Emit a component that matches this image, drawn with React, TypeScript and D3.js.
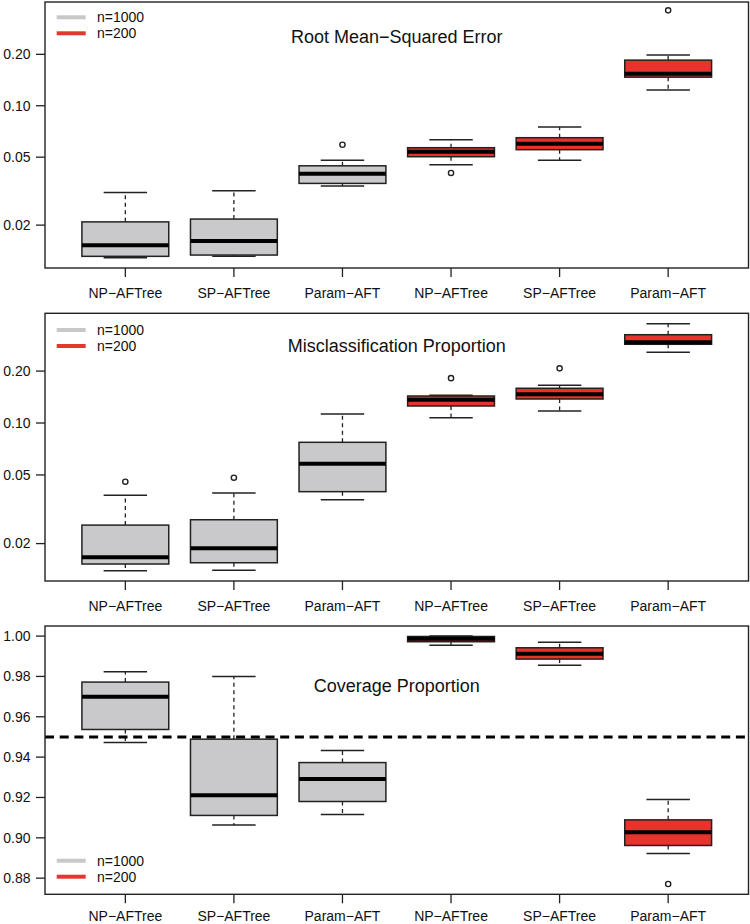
import React from "react";
import * as d3 from "d3";

const categories = ["NP−AFTree", "SP−AFTree", "Param−AFT", "NP−AFTree", "SP−AFTree", "Param−AFT"];
const groups = ["n=1000", "n=1000", "n=1000", "n=200", "n=200", "n=200"];
const legendLabels = ["n=1000", "n=200"];

// [lower whisker, Q1, median, Q3, upper whisker]
const rmseStats = [
  [0.01288, 0.01313, 0.01524, 0.0209, 0.031],
  [0.01313, 0.01336, 0.01614, 0.0217, 0.0318],
  [0.0339, 0.0351, 0.04, 0.0445, 0.0479],
  [0.0451, 0.0503, 0.0538, 0.0568, 0.0632],
  [0.0479, 0.0553, 0.0599, 0.065, 0.075],
  [0.1235, 0.147, 0.154, 0.185, 0.198],
];
const rmseOutliers = [[], [], [0.0591], [0.0404], [], [0.362]];

const miscStats = [
  [0.01393, 0.01523, 0.01665, 0.0256, 0.0381],
  [0.014, 0.01549, 0.0188, 0.0275, 0.0393],
  [0.0359, 0.04, 0.0581, 0.0773, 0.1127],
  [0.1073, 0.1255, 0.1365, 0.1434, 0.1448],
  [0.1174, 0.1378, 0.1467, 0.159, 0.1654],
  [0.257, 0.286, 0.294, 0.325, 0.376],
];
const miscOutliers = [[0.0457], [0.0482], [], [0.182], [0.2075], []];

const covStats = [
  [0.9473, 0.9537, 0.9699, 0.9772, 0.9823],
  [0.9064, 0.9111, 0.9211, 0.9489, 0.98],
  [0.9116, 0.918, 0.9291, 0.9373, 0.9433],
  [0.9955, 0.9972, 0.9987, 0.9998, 1.0],
  [0.9855, 0.9886, 0.9912, 0.9942, 0.997],
  [0.8922, 0.8962, 0.9028, 0.9089, 0.919],
];
const covOutliers = [[], [], [], [], [], [0.8771]];

const logTicks = [0.02, 0.05, 0.1, 0.2];
const covTicks = [0.88, 0.9, 0.92, 0.94, 0.96, 0.98, 1.0];
const covReference = 0.95;

const titles = ["Root Mean−Squared Error", "Misclassification Proportion", "Coverage Proportion"];

const FONT = "'Liberation Sans', Arial, Helvetica, sans-serif";
const GRAY = "#c9c9cb";
const RED = "#e8322b";
const LEG_GRAY = "#c8c8c8";
const LEG_RED = "#e03a30";
const INK = "#222";

const LEFT = 45;
const RIGHT = 748.5;

type Panel = {
  top: number;
  bottom: number;
  log: boolean;
  domain: [number, number];
  ticks: number[];
  stats: number[][];
  outliers: number[][];
  title: string;
  titleY: number;
  legendY: number;
  labelOffset: number;
  ref?: number;
};

const panels: Panel[] = [
  { top: 2, bottom: 268, log: true, domain: [0.01122, 0.405], ticks: logTicks, stats: rmseStats, outliers: rmseOutliers, title: titles[0], titleY: 37, legendY: 17.3, labelOffset: 30 },
  { top: 313.3, bottom: 581, log: true, domain: [0.01214, 0.4325], ticks: logTicks, stats: miscStats, outliers: miscOutliers, title: titles[1], titleY: 346, legendY: 330, labelOffset: 30 },
  { top: 626, bottom: 894.3, log: false, domain: [0.872, 1.005], ticks: covTicks, stats: covStats, outliers: covOutliers, title: titles[2], titleY: 685.3, legendY: 860.7, labelOffset: 26.3, ref: covReference },
];

function PanelView({ p }: { p: Panel }) {
  const y: any = p.log
    ? d3.scaleLog().domain(p.domain).range([p.bottom, p.top])
    : d3.scaleLinear().domain(p.domain).range([p.bottom, p.top]);
  const x = d3.scaleLinear().domain([0.26, 6.74]).range([LEFT, RIGHT]);
  const unit = x(1) - x(0);
  const fmt = (v: number) => v.toFixed(2);
  return (
    <g>
      {p.stats.map((s, i) => {
        const cx = x(i + 1);
        const bw = unit * 0.8;
        const cw = unit * 0.4;
        const fill = groups[i] === "n=1000" ? GRAY : RED;
        const [lo, q1, med, q3, hi] = s;
        return (
          <g key={i}>
            <line x1={cx} x2={cx} y1={y(q3)} y2={y(hi)} stroke={INK} strokeWidth={1.3} strokeDasharray="4,3.5" />
            <line x1={cx} x2={cx} y1={y(q1)} y2={y(lo)} stroke={INK} strokeWidth={1.3} strokeDasharray="4,3.5" />
            <line x1={cx - cw / 2} x2={cx + cw / 2} y1={y(hi)} y2={y(hi)} stroke={INK} strokeWidth={1.5} />
            <line x1={cx - cw / 2} x2={cx + cw / 2} y1={y(lo)} y2={y(lo)} stroke={INK} strokeWidth={1.5} />
            <rect x={cx - bw / 2} y={y(q3)} width={bw} height={y(q1) - y(q3)} fill={fill} stroke={INK} strokeWidth={1.5} />
            <line x1={cx - bw / 2} x2={cx + bw / 2} y1={y(med)} y2={y(med)} stroke="#000" strokeWidth={4} />
            {p.outliers[i].map((o, j) => (
              <circle key={j} cx={cx} cy={y(o)} r={2.6} fill="none" stroke={INK} strokeWidth={1.4} />
            ))}
          </g>
        );
      })}
      {p.ref !== undefined && (
        <line x1={LEFT} x2={RIGHT} y1={y(p.ref)} y2={y(p.ref)} stroke="#000" strokeWidth={3} strokeDasharray="9,5.7" />
      )}
      <rect x={LEFT} y={p.top} width={RIGHT - LEFT} height={p.bottom - p.top} fill="none" stroke={INK} strokeWidth={1.4} />
      {p.ticks.map((t) => (
        <g key={t}>
          <line x1={LEFT - 9} x2={LEFT} y1={y(t)} y2={y(t)} stroke={INK} strokeWidth={1.3} />
          <text x={30.5} y={y(t)} dy="0.35em" textAnchor="end" fontSize={14} fontFamily={FONT} fill="#111">
            {fmt(t)}
          </text>
        </g>
      ))}
      {categories.map((c, i) => (
        <g key={i}>
          <line x1={x(i + 1)} x2={x(i + 1)} y1={p.bottom} y2={p.bottom + 9} stroke={INK} strokeWidth={1.3} />
          <text x={x(i + 1)} y={p.bottom + p.labelOffset} textAnchor="middle" fontSize={14} fontFamily={FONT} fill="#111">
            {c}
          </text>
        </g>
      ))}
      <text x={(LEFT + RIGHT) / 2} y={p.titleY} dy="0.35em" textAnchor="middle" fontSize={18} fontFamily={FONT} fill="#111">
        {p.title}
      </text>
      {legendLabels.map((l, k) => (
        <g key={l}>
          <line x1={56.7} x2={85.7} y1={p.legendY + k * 16} y2={p.legendY + k * 16} stroke={k === 0 ? LEG_GRAY : LEG_RED} strokeWidth={4} />
          <text x={97} y={p.legendY + k * 16} dy="0.35em" fontSize={14} fontFamily={FONT} fill="#111">
            {l}
          </text>
        </g>
      ))}
    </g>
  );
}

export default function App() {
  return (
    <svg width={750} height={924} style={{ position: "absolute", left: 0, top: 0, background: "#fff" }}>
      <rect x={0} y={0} width={750} height={924} fill="#fff" />
      {panels.map((p, i) => (
        <PanelView key={i} p={p} />
      ))}
    </svg>
  );
}
